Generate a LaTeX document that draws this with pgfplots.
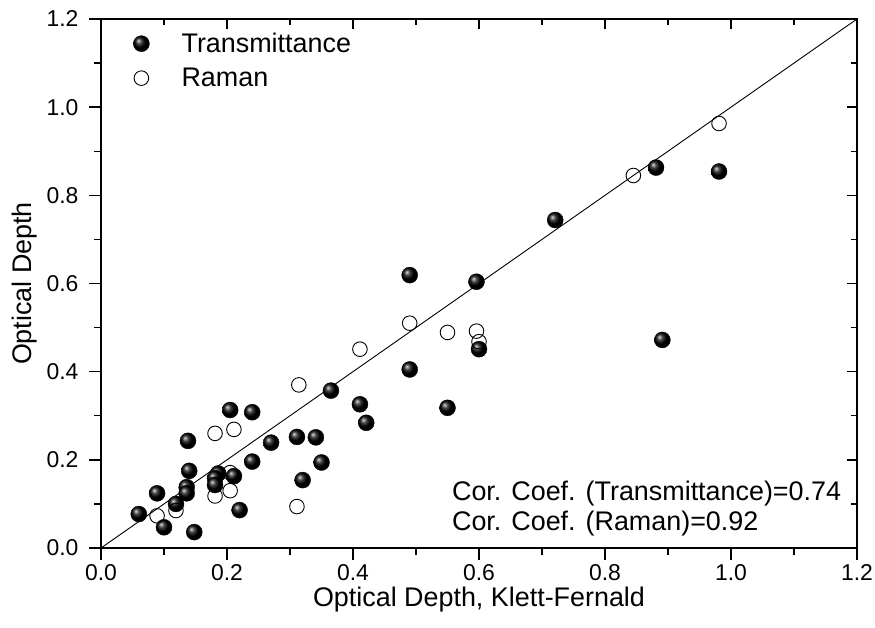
\documentclass[border=0pt]{standalone}
\usepackage{fontspec}
\setmainfont{Liberation Sans}
\usepackage{pgfplots}
\pgfplotsset{compat=1.18}
\begin{document}
\begin{tikzpicture}
\pgfplotsset{
  common/.style={
    width=756bp, height=529bp, scale only axis,
    xmin=0, xmax=1.2, ymin=0, ymax=1.2,
    xtick={0,0.2,...,1.21}, ytick={0,0.2,...,1.21},
    minor x tick num=1, minor y tick num=1,
    axis line style={line width=1.6bp},
    major tick style={line width=1.4bp, black},
    minor tick style={line width=1.4bp, black},
  }
}
\begin{axis}[common,
  major tick length=12bp, minor tick length=7bp,
  xtick pos=bottom, ytick pos=left, tick align=outside,
  /pgf/number format/assume math mode=true,
  /pgf/number format/fixed, /pgf/number format/fixed zerofill,
  /pgf/number format/precision=1,
  tick label style={font=\fontsize{23}{27}\selectfont},
  yticklabel style={xshift=-7bp},
  xticklabel style={inner sep=1bp, yshift=-3bp},
  label style={font=\fontsize{27}{32}\selectfont},
  xlabel={Optical Depth, Klett-Fernald},
  ylabel={Optical Depth},
  xlabel style={at={(axis description cs:0.5,0)}, anchor=center, inner sep=0pt, yshift=-52bp},
  ylabel style={at={(axis description cs:0,0.5)}, anchor=center, yshift=76bp},
  legend style={at={(axis description cs:0,1)}, anchor=north west,
    draw=none, fill=none, font=\fontsize{27}{32}\selectfont,
    xshift=29bp, yshift=-10bp, row sep=10bp},
  legend cell align=left,
  /tikz/every odd column/.append style={column sep=30bp},
]
\addplot[only marks, mark=ball, mark size=8bp, mark options={ball color=black}] coordinates {
(0.205,0.313) (0.240,0.308) (0.270,0.239) (0.138,0.243) (0.240,0.196)
(0.140,0.175) (0.186,0.169) (0.181,0.158) (0.211,0.163) (0.181,0.143)
(0.136,0.138) (0.136,0.124) (0.089,0.124) (0.060,0.077) (0.100,0.047)
(0.148,0.036) (0.220,0.086) (0.119,0.100) (0.365,0.357) (0.411,0.326)
(0.421,0.284) (0.490,0.405) (0.550,0.318) (0.600,0.451) (0.311,0.252)
(0.341,0.251) (0.350,0.194) (0.320,0.154) (0.490,0.619) (0.596,0.604)
(0.891,0.472) (0.721,0.744) (0.881,0.863) (0.981,0.854)
};
\addlegendentry{Transmittance}
\addplot[only marks, mark=o, mark size=7.3bp, mark options={draw=black, fill=white, line width=0.9bp}] coordinates {
(0.181,0.260) (0.211,0.269) (0.205,0.171) (0.181,0.118) (0.205,0.130)
(0.119,0.085) (0.089,0.073) (0.314,0.370) (0.411,0.451) (0.490,0.510)
(0.550,0.489) (0.596,0.492) (0.600,0.468) (0.311,0.094) (0.845,0.845)
(0.981,0.963)
};
\addlegendentry{Raman}
\addplot[black, line width=0.9bp, forget plot] coordinates {(0,0) (1.2,1.2)};
\node[anchor=base west, font=\fontsize{27}{32}\selectfont, inner sep=0pt] at (axis cs:0.557,0.107) {Cor. Coef. (Transmittance)=0.74};
\node[anchor=base west, font=\fontsize{27}{32}\selectfont, inner sep=0pt] at (axis cs:0.557,0.0386) {Cor. Coef. (Raman)=0.92};
\coordinate (BL) at (axis cs:0,0);
\coordinate (TR) at (axis cs:1.2,1.2);
\end{axis}
\begin{axis}[common,
  major tick length=10bp, minor tick length=6bp,
  xtick pos=top, ytick pos=right, tick align=inside,
  xticklabels={}, yticklabels={},
]
\end{axis}
\pgfresetboundingbox
\path ([xshift=-101bp,yshift=-80bp]BL) rectangle ([xshift=18bp,yshift=19bp]TR);
\end{tikzpicture}
\end{document}
